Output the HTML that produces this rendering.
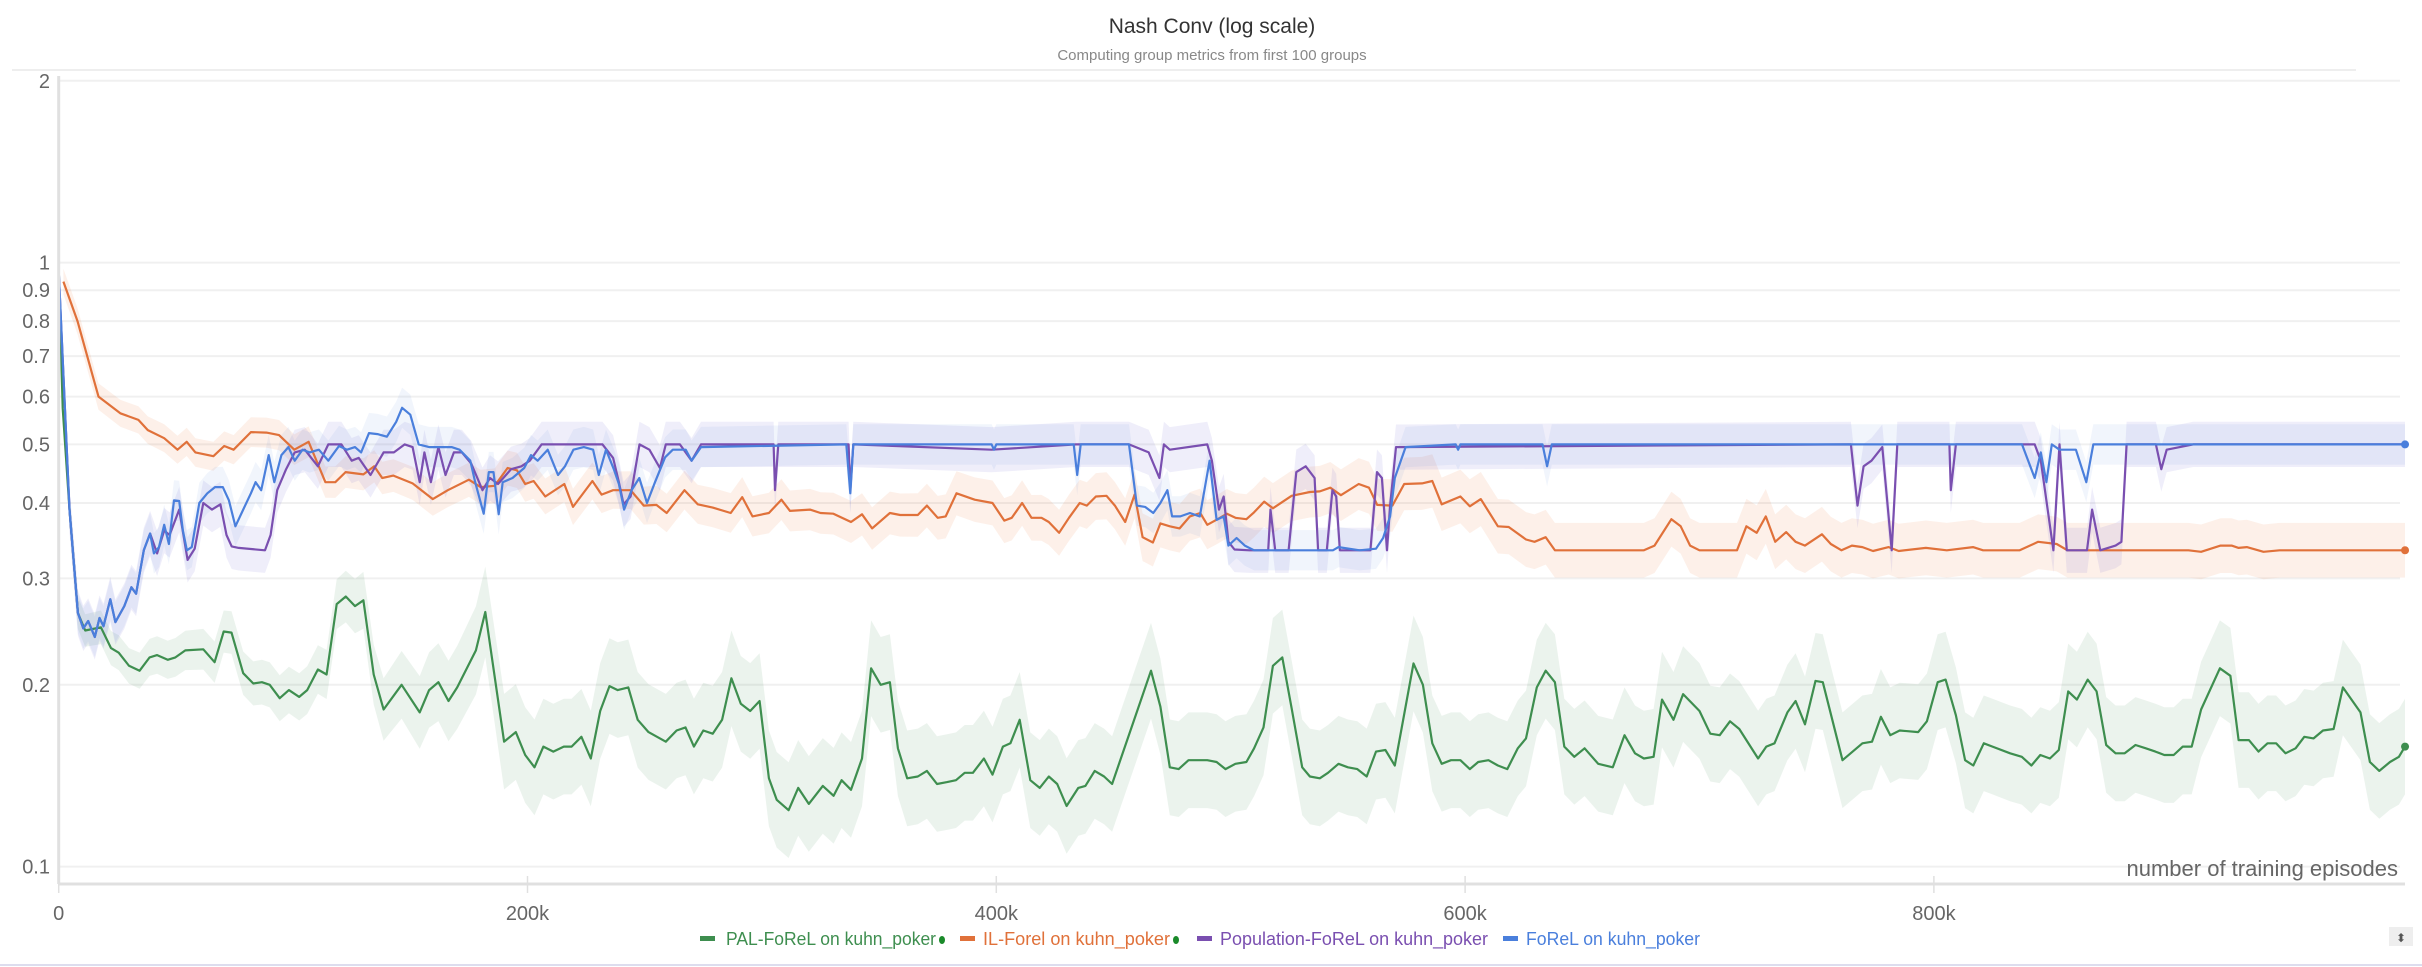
<!DOCTYPE html>
<html><head><meta charset="utf-8"><style>
html,body{margin:0;padding:0;background:#fff;}
svg{display:block;font-family:"Liberation Sans",sans-serif;}
</style></head><body>
<svg id="chart" width="2422" height="967" viewBox="0 0 2422 967" xmlns="http://www.w3.org/2000/svg">
<text x="1212" y="33" text-anchor="middle" font-size="21" fill="#333">Nash Conv (log scale)</text>
<text x="1212" y="60" text-anchor="middle" font-size="15" fill="#888">Computing group metrics from first 100 groups</text>
<line x1="12" y1="70" x2="2356" y2="70" stroke="#eee" stroke-width="2"/>
<g id="grid"></g>
<g id="bands"></g>
<g id="lines"></g>
<g id="axes"></g>
<text x="2398" y="876" text-anchor="end" font-size="22" fill="#666">number of training episodes</text>
<g id="legend"></g>
<rect x="2389" y="927" width="24" height="19" fill="#eee"/>
<text x="2401" y="942" text-anchor="middle" font-size="12" fill="#555">⬍</text>
<line x1="0" y1="965" x2="2422" y2="965" stroke="#dde" stroke-width="2"/>
</svg>
<script>
const yTicks=[2,1,0.9,0.8,0.7,0.6,0.5,0.4,0.3,0.2,0.1];
const yTickLabels=["2","1","0.9","0.8","0.7","0.6","0.5","0.4","0.3","0.2","0.1"];
const xTicks=[0,200,400,600,800];
const xTickLabels=["0","200k","400k","600k","800k"];

const palX=[0,1.7,4.6,8.2,11.3,18,22.3,25.6,30,34.5,38.8,42,46.5,49.8,54,61.7,66.5,70.4,73.7,78.7,83,86.7,90,94.3,98.2,102.6,106,110.6,114.3,118.6,122.5,126.4,130,134.4,138.6,146.3,154,158,162,166.3,170,178,182,190,195,199,203,206.8,211,215.5,218.8,223,227,231,235,238.5,243,247,251.6,259,263.6,267.4,271,275,279,283,287,291,295,299,303,306.3,311.4,315.5,320,326,330.6,334,338,342.7,346.6,350.7,354.6,358,362,366.5,370.4,374.7,379,382.8,386.5,390,394.7,398.4,402.8,406,410,414.5,418.5,422.4,426,430,435,438,442,446,449.4,466,470,474,477.8,482,490,494,497.8,502,506.7,510,514,518,522,526,530.5,533.8,538,541.5,546,550,554,558,562,566,570,578,582,586,590,594,598,602,605.6,610,614,618,622.5,626,630.6,634.4,638.3,642.3,646.6,651,656.8,663,668,672.5,676.3,680.4,684,688.9,693,700,704.6,708.6,713,717,725,728.5,732,737.5,741,745,749.5,752.6,761,769.5,773.6,777.4,781.4,785.4,793.3,797,801.6,805,809.4,813.3,816.8,821.3,825,832.5,837.5,841.6,845.4,849.5,853.3,857.3,861,865.6,869.4,873.5,877.5,881.4,886,890.4,894.5,898.3,902.3,906.2,910,914,922,926.5,930,934.4,938.5,942.3,946,950,954.3,958,962,966,970.5,974.5,982,986,990,994.6,998.4,1001];
const palY=[0.98,0.574,0.39,0.263,0.246,0.249,0.23,0.226,0.215,0.211,0.222,0.224,0.22,0.222,0.228,0.229,0.218,0.245,0.244,0.209,0.201,0.202,0.2,0.19,0.196,0.191,0.196,0.212,0.208,0.272,0.28,0.27,0.276,0.208,0.182,0.2,0.18,0.196,0.202,0.188,0.198,0.228,0.264,0.161,0.167,0.153,0.146,0.158,0.155,0.158,0.158,0.164,0.151,0.181,0.199,0.196,0.198,0.175,0.167,0.161,0.168,0.17,0.158,0.168,0.166,0.175,0.205,0.186,0.181,0.188,0.14,0.129,0.124,0.135,0.127,0.136,0.131,0.139,0.134,0.151,0.213,0.2,0.202,0.157,0.14,0.141,0.144,0.137,0.138,0.139,0.143,0.143,0.151,0.142,0.158,0.16,0.175,0.139,0.135,0.141,0.137,0.126,0.135,0.136,0.144,0.141,0.137,0.211,0.184,0.146,0.145,0.15,0.15,0.149,0.145,0.148,0.149,0.157,0.17,0.215,0.222,0.183,0.146,0.141,0.14,0.143,0.148,0.146,0.145,0.141,0.155,0.156,0.147,0.217,0.2,0.16,0.148,0.15,0.15,0.145,0.149,0.15,0.147,0.145,0.157,0.163,0.198,0.211,0.202,0.158,0.152,0.157,0.148,0.146,0.165,0.154,0.151,0.152,0.189,0.175,0.193,0.181,0.166,0.165,0.174,0.169,0.151,0.158,0.16,0.18,0.188,0.172,0.203,0.202,0.15,0.16,0.161,0.177,0.165,0.168,0.167,0.174,0.202,0.204,0.178,0.15,0.147,0.16,0.158,0.154,0.152,0.147,0.153,0.151,0.156,0.195,0.189,0.204,0.195,0.159,0.154,0.154,0.159,0.157,0.155,0.153,0.153,0.158,0.158,0.182,0.213,0.207,0.162,0.162,0.155,0.16,0.16,0.154,0.157,0.164,0.163,0.168,0.169,0.198,0.18,0.149,0.144,0.149,0.152,0.158];

const ilX=[2,8,14,17,26.3,34,38,45,50.7,54.6,58.3,66,70.6,74.6,82,88.6,94,100.5,106.6,113.8,118,122.4,130,134.6,138,142.8,151,159.6,166,175,180,186,191.5,195.5,199,202.6,207.6,215.7,219.4,227.7,231.6,236.5,244,249.6,255,259.4,267,272.6,279,286.7,291.6,296,303,308.3,312,320.5,325,330.5,338,342.7,347,354.6,359,366.5,370.4,375,378.4,383,390.8,398.4,403.4,406.6,411,415,419.3,422.4,426.8,431,435.6,438.6,442.5,447,450.6,455,459,462.4,466.8,470,474,478.2,482.6,487,490,494.4,498.4,502,506.7,510,514.3,518,526,533.8,538,542.5,547,554.6,559,562.5,569,574,581.6,586,590,598,602,606.7,614,618.6,626,629.6,634.4,638.3,656.8,676.3,680.8,688,692,696,700,716,720,724.4,728.3,732.3,737,741,745,752.2,756,760.6,765,769.5,774,780.7,785,796.6,805.5,816.7,821,836.6,844.5,852.4,857,908.6,914,922.3,927,930,933.5,940.6,947.5,1001];
const ilY=[0.93,0.8,0.66,0.6,0.563,0.549,0.528,0.512,0.49,0.505,0.485,0.478,0.497,0.49,0.524,0.523,0.518,0.49,0.505,0.433,0.433,0.45,0.446,0.46,0.44,0.444,0.431,0.406,0.42,0.437,0.425,0.427,0.457,0.453,0.43,0.435,0.41,0.43,0.394,0.435,0.413,0.42,0.42,0.396,0.397,0.385,0.42,0.398,0.393,0.385,0.409,0.38,0.385,0.405,0.388,0.39,0.385,0.384,0.372,0.383,0.363,0.385,0.382,0.382,0.396,0.378,0.38,0.415,0.405,0.4,0.374,0.378,0.4,0.378,0.378,0.372,0.357,0.378,0.4,0.396,0.41,0.411,0.396,0.372,0.413,0.351,0.344,0.37,0.366,0.363,0.38,0.385,0.368,0.376,0.384,0.378,0.376,0.386,0.402,0.392,0.411,0.417,0.418,0.424,0.412,0.43,0.424,0.397,0.396,0.43,0.431,0.435,0.398,0.41,0.395,0.406,0.366,0.365,0.348,0.345,0.351,0.334,0.334,0.334,0.34,0.376,0.366,0.34,0.334,0.334,0.366,0.357,0.38,0.345,0.358,0.345,0.34,0.355,0.342,0.334,0.34,0.338,0.333,0.338,0.333,0.337,0.334,0.338,0.334,0.334,0.345,0.342,0.334,0.334,0.332,0.34,0.34,0.337,0.338,0.332,0.334,0.334];

const popX=[0,4.6,8.2,10.5,12.6,15.4,17.4,19.1,22,24.2,28,31,33,36.3,39,42,45,47.3,51.4,55,58,61.7,65.4,69,71.6,73.8,76.8,88,90.4,93.2,97,100.7,105,110.6,115,120.6,125,128,133,138.6,143,147.6,151,154,156,158.8,162,165,168.6,172,176,180.8,184,187.4,193,197.4,201,206,232,236.5,239,241,244,247.8,252,256.5,259,265,270,274,305,305.6,307,337,337.7,339,398,434,436,456.6,465,469.6,471.5,474,490,492,495,497,499,501.6,508,516,517,519,524.7,528,532,535.8,537.3,541,543.4,545,546.6,559.6,562.4,564.5,566.7,568,570.5,764.6,767.4,770,773.4,778,782,784.4,806.6,807.2,809.4,843,845.6,851,853.6,856.7,865.3,867.5,871,877.5,880,882.2,894.7,897,899.3,910.6,1001];
const popY=[0.97,0.39,0.263,0.248,0.255,0.24,0.258,0.25,0.277,0.254,0.27,0.29,0.283,0.334,0.356,0.33,0.36,0.354,0.39,0.322,0.336,0.4,0.39,0.398,0.354,0.339,0.337,0.334,0.354,0.42,0.455,0.485,0.49,0.46,0.5,0.5,0.47,0.475,0.445,0.485,0.485,0.5,0.495,0.433,0.485,0.433,0.495,0.445,0.485,0.485,0.465,0.42,0.44,0.43,0.455,0.46,0.47,0.5,0.5,0.475,0.433,0.398,0.41,0.5,0.49,0.457,0.5,0.5,0.47,0.5,0.5,0.42,0.5,0.5,0.42,0.5,0.49,0.5,0.5,0.5,0.485,0.44,0.5,0.49,0.5,0.47,0.39,0.41,0.345,0.335,0.334,0.334,0.39,0.334,0.334,0.45,0.46,0.44,0.334,0.334,0.42,0.41,0.334,0.334,0.45,0.44,0.334,0.396,0.495,0.5,0.396,0.46,0.47,0.495,0.334,0.5,0.5,0.42,0.5,0.5,0.47,0.334,0.5,0.334,0.334,0.39,0.334,0.34,0.345,0.5,0.5,0.455,0.49,0.5,0.5];

const forelX=[0,4.6,8.2,10.5,12.6,15.4,17.4,19.1,22,24.2,28,31,33,36.3,39,40.6,42.8,45,47,49.2,51.4,53,54.7,56.8,60,63.4,66.7,70,72.6,75.4,78.7,82,84,86.4,89.6,92,95,98,100.7,104,107,111,115,119.6,123,126.4,129,132.4,136,140,144,146.5,150,153.6,158,167.6,171,175.6,177.7,181.3,183.5,185.5,187.7,189.4,193.6,198.6,201.5,204.3,208.6,213,216,219.6,224,228,230.4,233.5,236.8,239,241.2,244.4,247.7,251,254.4,258.7,262,267.5,270,274,336,337.7,339,398,399,400,433,434.5,436,456.6,460,463.5,467,470,473,475,478.5,482.6,486.8,491,494,497,499,502.5,506,510,543.6,546,555,562,565,568,570,574.6,596,597,598,633,635,637,837.6,843,845.6,848,850.3,853.6,860.6,865,868,880,1001];
const forelY=[0.97,0.39,0.263,0.248,0.255,0.24,0.258,0.25,0.277,0.254,0.27,0.29,0.283,0.334,0.356,0.33,0.338,0.368,0.342,0.404,0.403,0.36,0.334,0.338,0.4,0.415,0.425,0.425,0.404,0.366,0.39,0.415,0.433,0.42,0.48,0.433,0.48,0.495,0.47,0.49,0.485,0.49,0.47,0.497,0.49,0.495,0.485,0.522,0.52,0.515,0.545,0.575,0.56,0.5,0.495,0.495,0.49,0.47,0.433,0.384,0.45,0.45,0.383,0.433,0.44,0.457,0.48,0.47,0.49,0.445,0.46,0.49,0.495,0.49,0.445,0.49,0.455,0.43,0.39,0.42,0.44,0.4,0.433,0.476,0.49,0.49,0.47,0.495,0.5,0.415,0.5,0.5,0.49,0.5,0.5,0.445,0.5,0.5,0.396,0.394,0.385,0.4,0.42,0.38,0.38,0.385,0.38,0.47,0.375,0.38,0.34,0.35,0.34,0.334,0.334,0.338,0.334,0.336,0.35,0.38,0.44,0.495,0.5,0.49,0.5,0.5,0.46,0.5,0.5,0.44,0.485,0.433,0.5,0.49,0.49,0.433,0.5,0.5,0.5];

const palBandX=[0,120,190,1001], palBandW=[0.06,0.1,0.2,0.2];
const ilBandX=[0,300,620,1001], ilBandW=[0.05,0.08,0.11,0.11];
const popBandX=[0,1001], popBandW=[0.09,0.09];
const forelBandX=[0,1001], forelBandW=[0.08,0.08];

const X0=58.7, PXK=468.8/200, Y1=262.6, DEC=604;
const sx=k=>X0+k*PXK;
const sy=v=>Y1-Math.log10(v)*DEC;
const NS="http://www.w3.org/2000/svg";
function mk(tag,attrs,parent){const e=document.createElementNS(NS,tag);for(const k in attrs)e.setAttribute(k,attrs[k]);parent.appendChild(e);return e;}
function bw(bx,bwArr,k){for(let i=0;i<bx.length-1;i++){if(k<=bx[i+1]){const t=(k-bx[i])/(bx[i+1]-bx[i]);return bwArr[i]+(bwArr[i+1]-bwArr[i])*t;}}return bwArr[bwArr.length-1];}

const grid=document.getElementById('grid');
const axes=document.getElementById('axes');
yTicks.forEach((t,i)=>{
  const y=sy(t);
  const g=mk('line',{x1:X0,y1:y,x2:2400,y2:y,stroke:'#f0f0f0','stroke-width':2},grid);
  
  
  const tx=mk('text',{x:50,y:y+7,'text-anchor':'end','font-size':20,fill:'#666'},axes);
  tx.textContent=yTickLabels[i];
  
  
});
const ya=mk('line',{x1:X0,y1:76,x2:X0,y2:884,stroke:'#e0e0e0','stroke-width':3},axes);


const xa=mk('line',{x1:X0,y1:884,x2:2405,y2:884,stroke:'#e0e0e0','stroke-width':3},axes);


xTicks.forEach((t,i)=>{
  const x=sx(t);
  const tk=mk('line',{x1:x,y1:876,x2:x,y2:893,stroke:'#e0e0e0','stroke-width':1.5},axes);
  
  
  const tx=mk('text',{x:x,y:920,'text-anchor':'middle','font-size':20,fill:'#666'},axes);
  tx.textContent=xTickLabels[i];
  
  
});

const bands=document.getElementById('bands');
const lines=document.getElementById('lines');
const series=[
  {name:'pal-forel',xs:palX,ys:palY,bx:palBandX,bw:palBandW,color:'#3e8e4f',fill:'rgba(62,142,79,0.10)',dot:true},
  {name:'il-forel',xs:ilX,ys:ilY,bx:ilBandX,bw:ilBandW,color:'#e0713a',fill:'rgba(240,130,70,0.12)',dot:true},
  {name:'population-forel',xs:popX,ys:popY,bx:popBandX,bw:popBandW,color:'#7a4fb0',fill:'rgba(110,100,210,0.11)',dot:false},
  {name:'forel',xs:forelX,ys:forelY,bx:forelBandX,bw:forelBandW,color:'#4a7fdc',fill:'rgba(74,127,220,0.08)',dot:true}
];
series.forEach(s=>{
  const n=Math.min(s.xs.length,s.ys.length);
  const xs=s.xs.slice(0,n);
  const up=xs.map((x,i)=>sx(x).toFixed(1)+','+sy(s.ys[i]*(1+bw(s.bx,s.bw,x))).toFixed(1));
  const lo=xs.map((x,i)=>sx(x).toFixed(1)+','+sy(s.ys[i]/(1+bw(s.bx,s.bw,x))).toFixed(1)).reverse();
  const b=mk('polygon',{points:up.concat(lo).join(' '),fill:s.fill,stroke:'none'},bands);
  
  
});
series.forEach(s=>{
  const n=Math.min(s.xs.length,s.ys.length);
  const pts=s.xs.slice(0,n).map((x,i)=>sx(x).toFixed(1)+','+sy(s.ys[i]).toFixed(1)).join(' ');
  const l=mk('polyline',{points:pts,fill:'none',stroke:s.color,'stroke-width':2.2,'stroke-linejoin':'round'},lines);
  
  
  if(s.dot){
    const d=mk('circle',{cx:sx(s.xs[n-1]),cy:sy(s.ys[n-1]),r:4,fill:s.color},lines);
    
    
  }
});

const legend=document.getElementById('legend');
const leg=[
  {label:'PAL-FoReL on kuhn_poker',color:'#3e8e4f',sw:700,tx:726,tw:210,dot:942},
  {label:'IL-Forel on kuhn_poker',color:'#e0713a',sw:960,tx:983,tw:187,dot:1176},
  {label:'Population-FoReL on kuhn_poker',color:'#7a4fb0',sw:1197,tx:1220,tw:268,dot:0},
  {label:'FoReL on kuhn_poker',color:'#4a7fdc',sw:1503,tx:1526,tw:174,dot:0}
];
leg.forEach(e=>{
  const sw=mk('rect',{x:e.sw,y:936,width:15,height:5,fill:e.color},legend);
  
  
  const t=mk('text',{x:e.tx,y:945,'font-size':18,fill:e.color,textLength:e.tw,lengthAdjust:'spacingAndGlyphs'},legend);
  t.textContent=e.label;
  
  
  if(e.dot){
    const d=mk('ellipse',{cx:e.dot,cy:940,rx:3,ry:4,fill:'#1a8a2a'},legend);
    
    
  }
});
</script>
</body></html>
